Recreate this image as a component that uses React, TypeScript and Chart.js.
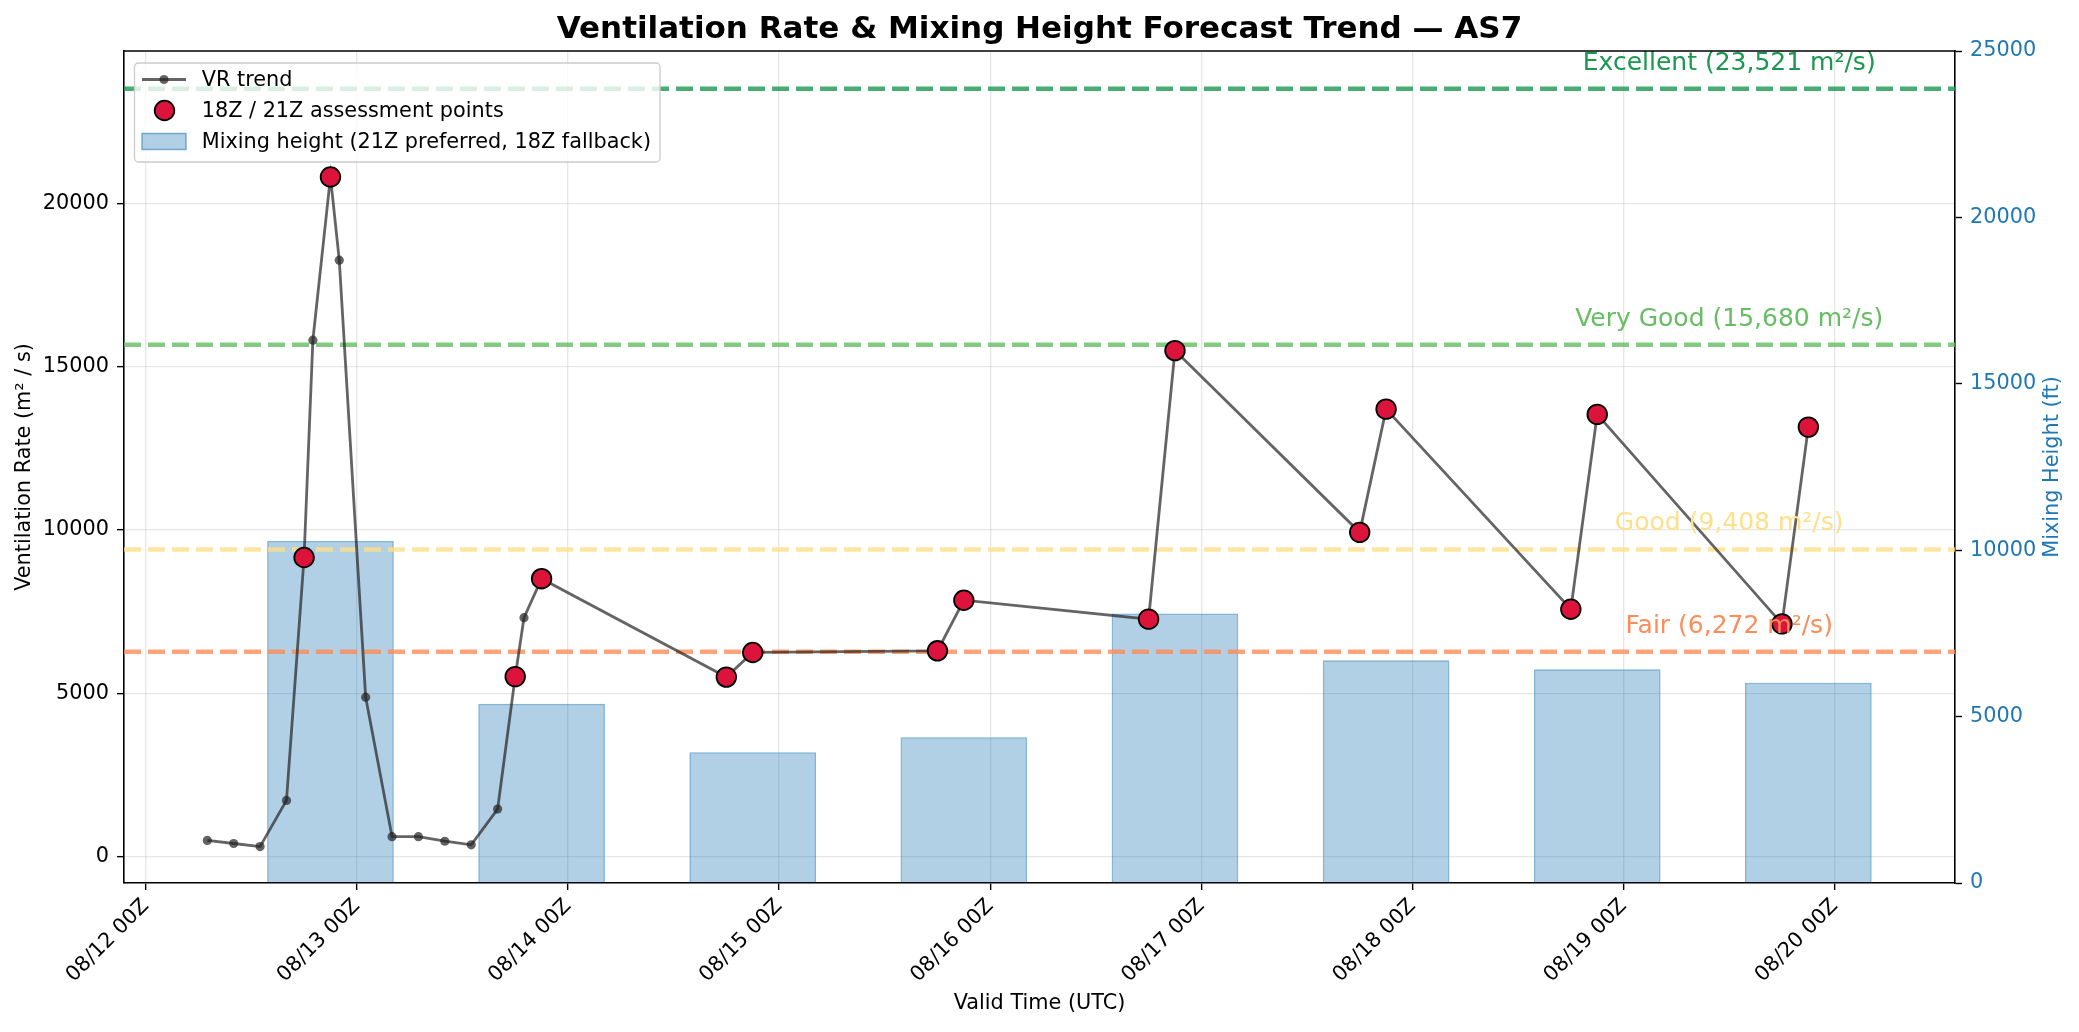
import React, { useEffect, useRef } from "react";
import { Chart, registerables } from "chart.js";

Chart.register(...registerables);

const W = 2079;
const H = 1032;
const FONT = "'DejaVu Sans', 'Liberation Sans', sans-serif";
const FS = 20.8;

// ---- data ----
const trendTimes = [
  "08/12 07Z", "08/12 10Z", "08/12 13Z", "08/12 16Z", "08/12 18Z", "08/12 19Z", "08/12 21Z", "08/12 22Z",
  "08/13 01Z", "08/13 04Z", "08/13 07Z", "08/13 10Z", "08/13 13Z", "08/13 16Z", "08/13 18Z", "08/13 19Z",
  "08/13 21Z", "08/14 18Z", "08/14 21Z", "08/15 18Z", "08/15 21Z", "08/16 18Z", "08/16 21Z", "08/17 18Z",
  "08/17 21Z", "08/18 18Z", "08/18 21Z", "08/19 18Z", "08/19 21Z",
];
const trendValues = [
  490, 395, 300, 1715, 9160, 15820, 20820, 18270,
  4880, 605, 605, 465, 355, 1450, 5510, 7315,
  8510, 5495, 6250, 6300, 7850, 7270, 15500, 9930,
  13705, 7575, 13545, 7125, 13155,
];

const assessTimes = [
  "08/12 18Z", "08/12 21Z", "08/13 18Z", "08/13 21Z", "08/14 18Z", "08/14 21Z", "08/15 18Z", "08/15 21Z",
  "08/16 18Z", "08/16 21Z", "08/17 18Z", "08/17 21Z", "08/18 18Z", "08/18 21Z", "08/19 18Z", "08/19 21Z",
];
const assessValues = [
  9160, 20820, 5510, 8510, 5495, 6250, 6300, 7850,
  7270, 15500, 9930, 13705, 7575, 13545, 7125, 13155,
];

const mixTimes = ["08/12 21Z", "08/13 21Z", "08/14 21Z", "08/15 21Z", "08/16 21Z", "08/17 21Z", "08/18 21Z", "08/19 21Z"];
const mixHeights = [10280, 5385, 3930, 4380, 8100, 6690, 6420, 6020];

const tickTimes = ["08/12 00Z", "08/13 00Z", "08/14 00Z", "08/15 00Z", "08/16 00Z", "08/17 00Z", "08/18 00Z", "08/19 00Z", "08/20 00Z"];
const leftTicks = [0, 5000, 10000, 15000, 20000];
const rightTicks = [0, 5000, 10000, 15000, 20000, 25000];

const thresholdNames = ["Excellent", "Very Good", "Good", "Fair"];
const thresholdValues = [23521, 15680, 9408, 6272];
const thresholdColors = ["#1a9850", "#66bd63", "#fee08b", "#fc8d59"];
const thresholdLineColors = ["rgba(26,152,80,0.8)", "rgba(102,189,99,0.8)", "rgba(254,224,139,0.8)", "rgba(252,141,89,0.8)"];
const thresholdLabelTime = "08/19 12Z";

const legendLabels = ["VR trend", "18Z / 21Z assessment points", "Mixing height (21Z preferred, 18Z fallback)"];

// ---- helpers ----
const hours = (t: string) => {
  const [md, hz] = t.split(" ");
  const day = parseInt(md.split("/")[1], 10);
  const hr = parseInt(hz, 10);
  return (day - 12) * 24 + hr;
};

const X_MIN = -2.47;
const X_MAX = 205.67;
const Y_MIN = -815;
const Y_MAX = 24680;

const TREND_COLOR = "rgba(34,34,34,0.7)";
const BAR_COLOR = "rgba(31,119,180,0.35)";
const BAR_EDGE = "rgba(31,119,180,0.55)";
const GRID = "rgba(176,176,176,0.3)";

const overlay = {
  id: "overlay",
  afterDatasetsDraw(chart: any) {
    const { ctx, scales } = chart;
    ctx.save();
    ctx.font = `25px ${FONT}`;
    ctx.textAlign = "center";
    ctx.textBaseline = "alphabetic";
    const lx = scales.x.getPixelForValue(hours(thresholdLabelTime));
    thresholdValues.forEach((v, i) => {
      ctx.fillStyle = thresholdColors[i];
      const txt = `${thresholdNames[i]} (${v.toLocaleString("en-US")} m²/s)`;
      ctx.fillText(txt, lx, scales.y.getPixelForValue(v) - 19);
    });
    ctx.restore();
  },
  afterDraw(chart: any) {
    const { ctx, chartArea: ca } = chart;
    ctx.save();
    // top spine
    ctx.strokeStyle = "#000";
    ctx.lineWidth = 1.6;
    ctx.beginPath();
    ctx.moveTo(ca.left - 0.8, ca.top);
    ctx.lineTo(ca.right + 0.8, ca.top);
    ctx.stroke();

    // title
    ctx.fillStyle = "#000";
    ctx.font = `bold 31px ${FONT}`;
    ctx.textAlign = "center";
    ctx.textBaseline = "alphabetic";
    ctx.fillText("Ventilation Rate & Mixing Height Forecast Trend — AS7", (ca.left + ca.right) / 2, 37.5);

    // axis titles
    ctx.font = `${FS}px ${FONT}`;
    ctx.textBaseline = "middle";
    ctx.fillText("Valid Time (UTC)", (ca.left + ca.right) / 2, 1004);
    const cy = (ca.top + ca.bottom) / 2;
    ctx.save();
    ctx.translate(25, cy);
    ctx.rotate(-Math.PI / 2);
    ctx.fillText("Ventilation Rate (m² / s)", 0, 0);
    ctx.restore();
    ctx.save();
    ctx.translate(2053, cy);
    ctx.rotate(-Math.PI / 2);
    ctx.fillStyle = "#1f77b4";
    ctx.fillText("Mixing Height (ft)", 0, 0);
    ctx.restore();

    // legend
    ctx.font = `${FS}px ${FONT}`;
    const textX = 201.7;
    const maxW = Math.max(...legendLabels.map((t) => ctx.measureText(t).width));
    const bx = 134.5, by = 63, bh = 99;
    const bw = textX - bx + maxW + 9;
    ctx.beginPath();
    ctx.roundRect(bx, by, bw, bh, 4);
    ctx.fillStyle = "rgba(255,255,255,0.8)";
    ctx.fill();
    ctx.strokeStyle = "#cccccc";
    ctx.lineWidth = 1.3;
    ctx.stroke();

    const rows = [79.5, 110.5, 141.5];
    // row 1: line + marker
    ctx.strokeStyle = TREND_COLOR;
    ctx.lineWidth = 2.8;
    ctx.beginPath();
    ctx.moveTo(142, rows[0]);
    ctx.lineTo(186, rows[0]);
    ctx.stroke();
    ctx.fillStyle = TREND_COLOR;
    ctx.beginPath();
    ctx.arc(164, rows[0], 4.6, 0, Math.PI * 2);
    ctx.fill();
    // row 2: red circle
    ctx.beginPath();
    ctx.arc(164.5, rows[1], 9.8, 0, Math.PI * 2);
    ctx.fillStyle = "#DC143C";
    ctx.fill();
    ctx.strokeStyle = "#000";
    ctx.lineWidth = 1.8;
    ctx.stroke();
    // row 3: bar swatch
    ctx.fillStyle = BAR_COLOR;
    ctx.fillRect(142, rows[2] - 8, 44, 16);
    ctx.strokeStyle = BAR_EDGE;
    ctx.lineWidth = 1.5;
    ctx.strokeRect(142, rows[2] - 8, 44, 16);

    ctx.fillStyle = "#000";
    ctx.textAlign = "left";
    ctx.textBaseline = "middle";
    legendLabels.forEach((t, i) => ctx.fillText(t, textX, rows[i] + 1));
    ctx.restore();
  },
};

export default function App() {
  const ref = useRef<HTMLCanvasElement | null>(null);

  useEffect(() => {
    if (!ref.current) return;
    Chart.defaults.font.family = FONT;

    const thresholdSets = thresholdValues.map((v, i) => ({
      type: "line" as const,
      label: thresholdNames[i],
      data: [{ x: X_MIN, y: v }, { x: X_MAX, y: v }],
      borderColor: thresholdLineColors[i],
      borderWidth: 4.5,
      borderDash: [17, 7],
      pointRadius: 0,
      yAxisID: "y",
      order: 2,
    }));

    const chart = new Chart(ref.current, {
      type: "line",
      data: {
        datasets: [
          {
            type: "line",
            label: "18Z / 21Z assessment points",
            data: assessTimes.map((t, i) => ({ x: hours(t), y: assessValues[i] })),
            showLine: false,
            pointRadius: 9.8,
            pointBackgroundColor: "#DC143C",
            pointBorderColor: "#000",
            pointBorderWidth: 1.8,
            yAxisID: "y",
            order: 0,
          },
          {
            type: "line",
            label: "VR trend",
            data: trendTimes.map((t, i) => ({ x: hours(t), y: trendValues[i] })),
            borderColor: TREND_COLOR,
            borderWidth: 2.8,
            pointRadius: 4.6,
            pointBackgroundColor: TREND_COLOR,
            pointBorderWidth: 0,
            tension: 0,
            yAxisID: "y",
            order: 1,
          },
          ...thresholdSets,
          {
            type: "bar",
            label: "Mixing height (21Z preferred, 18Z fallback)",
            data: mixTimes.map((t, i) => ({ x: hours(t), y: mixHeights[i] })),
            backgroundColor: BAR_COLOR,
            borderColor: BAR_EDGE,
            borderWidth: 1.6,
            barPercentage: 0.6,
            categoryPercentage: 1,
            yAxisID: "y1",
            order: 3,
          },
        ] as any,
      },
      options: {
        responsive: false,
        animation: false,
        devicePixelRatio: 1,
        layout: { padding: { top: 51, left: 0, right: 0, bottom: 0 } },
        plugins: {
          legend: { display: false },
          tooltip: { enabled: false },
          title: { display: false },
        },
        scales: {
          x: {
            type: "linear",
            min: X_MIN,
            max: X_MAX,
            offset: false,
            afterBuildTicks: (s: any) => {
              s.ticks = tickTimes.map((t) => ({ value: hours(t) }));
            },
            afterFit: (s: any) => {
              s.height = H - 883;
            },
            ticks: {
              autoSkip: false,
              minRotation: 45,
              maxRotation: 45,
              padding: 4,
              color: "#000",
              font: { size: FS, family: FONT },
              callback: (v: any) => {
                const idx = tickTimes.findIndex((t) => hours(t) === v);
                return idx >= 0 ? tickTimes[idx] : "";
              },
            },
            grid: {
              offset: false,
              color: GRID,
              lineWidth: 1.3,
              tickColor: "#000",
              tickLength: 7,
              tickWidth: 1.4,
            },
            border: { display: true, color: "#000", width: 1.6 },
          },
          y: {
            type: "linear",
            position: "left",
            min: Y_MIN,
            max: Y_MAX,
            afterBuildTicks: (s: any) => {
              s.ticks = leftTicks.map((v) => ({ value: v }));
            },
            afterFit: (s: any) => {
              s.width = 124;
            },
            ticks: {
              padding: 8,
              color: "#000",
              font: { size: FS, family: FONT },
              callback: (v: any) => String(v),
            },
            grid: {
              color: GRID,
              lineWidth: 1.3,
              tickColor: "#000",
              tickLength: 7,
              tickWidth: 1.4,
            },
            border: { display: true, color: "#000", width: 1.6 },
          },
          y1: {
            type: "linear",
            position: "right",
            min: 0,
            max: 25000,
            afterBuildTicks: (s: any) => {
              s.ticks = rightTicks.map((v) => ({ value: v }));
            },
            afterFit: (s: any) => {
              s.width = W - 1955;
            },
            ticks: {
              padding: 8,
              color: "#1f77b4",
              font: { size: FS, family: FONT },
              callback: (v: any) => String(v),
            },
            grid: {
              drawOnChartArea: false,
              drawTicks: true,
              tickColor: "#000",
              tickLength: 7,
              tickWidth: 1.4,
            },
            border: { display: true, color: "#000", width: 1.6 },
          },
        },
      } as any,
      plugins: [overlay],
    });

    return () => chart.destroy();
  }, []);

  return (
    <div style={{ position: "absolute", left: 0, top: 0, width: W, height: H, background: "#fff" }}>
      <canvas ref={ref} width={W} height={H} style={{ display: "block", width: W, height: H }} />
    </div>
  );
}
